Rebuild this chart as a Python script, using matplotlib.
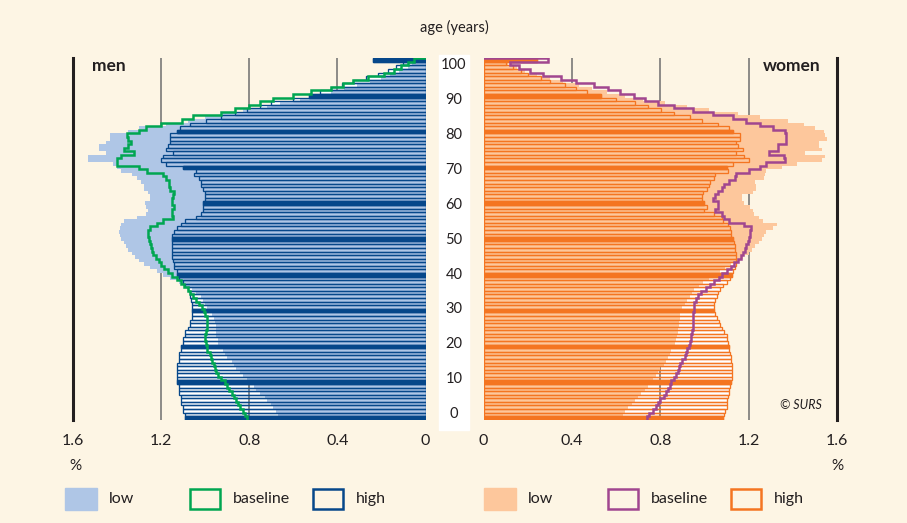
"""
Population projection pyramid - low / baseline / high scenarios (men, women)
"""

import numpy as np
import matplotlib.pyplot as plt
from matplotlib.patches import Rectangle
from matplotlib.transforms import blended_transform_factory

# ages 0..100 (100 = 100+)
ages = np.arange(0, 101)

men_low = [
    0.67, 0.67, 0.68, 0.69, 0.70, 0.72, 0.73, 0.75, 0.77, 0.78,
    0.80, 0.81, 0.83, 0.84, 0.86, 0.87, 0.88, 0.90, 0.91, 0.92,
    0.93, 0.94, 0.94, 0.95, 0.95, 0.95, 0.95, 0.955, 0.96, 0.97,
    0.98, 0.99, 1.00, 1.01, 1.02, 1.04, 1.06, 1.09, 1.12, 1.16,
    1.19, 1.22, 1.25, 1.28, 1.30, 1.32, 1.33, 1.35, 1.36, 1.37,
    1.38, 1.385, 1.39, 1.385, 1.38, 1.37, 1.31, 1.27, 1.26, 1.27,
    1.275, 1.25, 1.25, 1.26, 1.28, 1.28, 1.29, 1.31, 1.33, 1.38,
    1.40, 1.42, 1.53, 1.53, 1.45, 1.48, 1.48, 1.45, 1.43, 1.43,
    1.35, 1.30, 1.18, 1.08, 1.00, 0.92, 0.83, 0.72, 0.66, 0.57,
    0.50, 0.43, 0.37, 0.31, 0.25, 0.20, 0.16, 0.12, 0.08, 0.06,
    0.10,
]
men_base = [
    0.81, 0.82, 0.83, 0.84, 0.85, 0.86, 0.87, 0.88, 0.89, 0.90,
    0.91, 0.93, 0.94, 0.95, 0.955, 0.96, 0.97, 0.975, 0.98, 0.99,
    0.99, 0.995, 1.00, 1.00, 0.995, 0.99, 0.99, 0.99, 0.99, 1.00,
    1.005, 1.015, 1.03, 1.04, 1.055, 1.07, 1.08, 1.095, 1.11, 1.13,
    1.15, 1.17, 1.185, 1.20, 1.21, 1.225, 1.235, 1.24, 1.245, 1.25,
    1.255, 1.26, 1.26, 1.25, 1.22, 1.19, 1.145, 1.15, 1.15, 1.14,
    1.15, 1.15, 1.145, 1.14, 1.16, 1.165, 1.165, 1.18, 1.19, 1.265,
    1.30, 1.40, 1.40, 1.38, 1.325, 1.37, 1.35, 1.335, 1.35, 1.355,
    1.30, 1.27, 1.20, 1.105, 1.055, 0.93, 0.865, 0.80, 0.75, 0.69,
    0.60, 0.52, 0.43, 0.375, 0.33, 0.26, 0.19, 0.145, 0.11, 0.08,
    0.05,
]
men_high = [
    1.09, 1.09, 1.10, 1.10, 1.11, 1.11, 1.11, 1.12, 1.12, 1.12,
    1.13, 1.13, 1.13, 1.13, 1.13, 1.13, 1.12, 1.12, 1.12, 1.11,
    1.11, 1.10, 1.10, 1.09, 1.09, 1.08, 1.07, 1.07, 1.06, 1.06,
    1.06, 1.06, 1.06, 1.065, 1.07, 1.07, 1.08, 1.09, 1.10, 1.12,
    1.13, 1.13, 1.14, 1.14, 1.145, 1.15, 1.15, 1.15, 1.15, 1.15,
    1.15, 1.15, 1.14, 1.13, 1.11, 1.09, 1.04, 1.02, 1.01, 1.01,
    1.01, 1.00, 1.00, 1.00, 1.01, 1.02, 1.02, 1.03, 1.05, 1.04,
    1.10, 1.18, 1.20, 1.19, 1.145, 1.18, 1.17, 1.16, 1.16, 1.16,
    1.13, 1.115, 1.07, 0.995, 0.93, 0.865, 0.81, 0.75, 0.70, 0.60,
    0.53, 0.48, 0.43, 0.38, 0.33, 0.27, 0.215, 0.17, 0.135, 0.10,
    0.24,
]

women_low = [
    0.62, 0.63, 0.64, 0.655, 0.67, 0.685, 0.70, 0.715, 0.73, 0.745,
    0.755, 0.765, 0.78, 0.79, 0.80, 0.815, 0.825, 0.835, 0.845, 0.85,
    0.855, 0.865, 0.87, 0.875, 0.88, 0.88, 0.885, 0.885, 0.89, 0.89,
    0.895, 0.90, 0.91, 0.92, 0.935, 0.945, 0.955, 0.975, 0.995, 1.02,
    1.045, 1.07, 1.095, 1.12, 1.15, 1.175, 1.20, 1.215, 1.23, 1.245,
    1.26, 1.27, 1.28, 1.31, 1.33, 1.265, 1.245, 1.225, 1.22, 1.205,
    1.18, 1.17, 1.17, 1.22, 1.235, 1.235, 1.23, 1.27, 1.275, 1.28,
    1.35, 1.42, 1.53, 1.545, 1.455, 1.53, 1.52, 1.52, 1.555, 1.545,
    1.54, 1.50, 1.45, 1.38, 1.25, 1.15, 1.02, 0.92, 0.82, 0.72,
    0.64, 0.56, 0.49, 0.43, 0.36, 0.30, 0.24, 0.19, 0.15, 0.11,
    0.20,
]
women_base = [
    0.74, 0.75, 0.765, 0.78, 0.79, 0.80, 0.815, 0.825, 0.835, 0.845,
    0.85, 0.86, 0.87, 0.88, 0.885, 0.89, 0.90, 0.91, 0.915, 0.92,
    0.93, 0.935, 0.94, 0.94, 0.945, 0.95, 0.95, 0.95, 0.95, 0.95,
    0.955, 0.955, 0.955, 0.96, 0.97, 0.985, 1.005, 1.025, 1.045, 1.065,
    1.08, 1.10, 1.12, 1.135, 1.15, 1.165, 1.175, 1.185, 1.19, 1.195,
    1.20, 1.205, 1.205, 1.21, 1.18, 1.11, 1.09, 1.08, 1.05, 1.06,
    1.06, 1.04, 1.05, 1.06, 1.08, 1.09, 1.11, 1.14, 1.145, 1.20,
    1.25, 1.28, 1.365, 1.36, 1.29, 1.335, 1.335, 1.37, 1.37, 1.37,
    1.365, 1.31, 1.25, 1.19, 1.13, 1.04, 0.95, 0.86, 0.79, 0.73,
    0.68, 0.62, 0.565, 0.50, 0.42, 0.35, 0.27, 0.21, 0.16, 0.12,
    0.29,
]
women_high = [
    1.085, 1.09, 1.095, 1.10, 1.10, 1.10, 1.105, 1.11, 1.11, 1.115,
    1.12, 1.125, 1.125, 1.125, 1.125, 1.125, 1.12, 1.12, 1.115, 1.11,
    1.11, 1.105, 1.10, 1.10, 1.09, 1.08, 1.07, 1.065, 1.055, 1.05,
    1.045, 1.045, 1.045, 1.05, 1.055, 1.06, 1.07, 1.085, 1.10, 1.115,
    1.125, 1.13, 1.14, 1.145, 1.145, 1.145, 1.145, 1.14, 1.14, 1.135,
    1.13, 1.12, 1.12, 1.115, 1.105, 1.085, 1.08, 1.045, 1.00, 1.01,
    1.00, 0.99, 0.99, 0.995, 1.01, 1.02, 1.025, 1.045, 1.05, 1.105,
    1.10, 1.13, 1.20, 1.18, 1.145, 1.175, 1.15, 1.145, 1.16, 1.16,
    1.13, 1.11, 1.06, 0.99, 0.935, 0.86, 0.805, 0.745, 0.685, 0.60,
    0.53, 0.47, 0.42, 0.37, 0.30, 0.26, 0.20, 0.17, 0.135, 0.10,
    0.24,
]

xticks = [1.6, 1.2, 0.8, 0.4, 0]
xtick_labels = ['1.6', '1.2', '0.8', '0.4', '0']
age_ticks = list(range(0, 101, 10))

BG = '#fdf5e4'
FONT = 'Lato'
TXT = '#231f20'


def step_line(values):
    # vertical step outline of a series, closed to the axis at the top
    v = np.asarray(values)
    ys = np.column_stack([ages - 0.5, ages + 0.5]).ravel()
    xs = np.repeat(v, 2)
    xs = np.append(xs, 0)
    ys = np.append(ys, ages[-1] + 0.5)
    return xs, ys


def draw_side(ax, low, base, high, c_low, c_base, c_high):
    low = np.asarray(low)
    high = np.asarray(high)
    ax.barh(ages, high, height=1, color='white', edgecolor='none', zorder=1)
    for g in [1.2, 0.8, 0.4]:
        ax.axvline(g, color='#6e6e6e', lw=1.1, zorder=2)
    ax.axvline(1.6, color=TXT, lw=2.2, zorder=2, clip_on=False)
    ax.barh(ages, low, height=1, color=c_low, edgecolor='none', zorder=3)
    ax.barh(ages, high, height=1, fill=False, edgecolor=c_high, lw=0.95, zorder=4)
    dec = ages % 10 == 0
    ax.barh(ages[dec], high[dec], height=1, color=c_high, edgecolor=c_high,
            lw=0.95, zorder=4)
    xs, ys = step_line(base)
    ax.plot(xs, ys, color=c_base, lw=1.8, zorder=5, solid_joinstyle='miter')

    ax.set_xlim(0, 1.6)
    ax.set_ylim(-0.5, 100.5)
    ax.set_facecolor('none')
    for s in ax.spines.values():
        s.set_visible(False)
    ax.set_yticks([])
    ax.set_xticks(xticks)
    ax.set_xticklabels(xtick_labels, fontsize=11.5, family=FONT, color=TXT)
    ax.tick_params(axis='x', length=0, pad=10)


def main():
    fig = plt.figure(figsize=(9.07, 5.23), dpi=100)
    fig.patch.set_facecolor(BG)
    W, H = 907, 523

    bottom = (H - 419.8) / H
    height = (419.8 - 58.2) / H
    axL = fig.add_axes([73 / W, bottom, (425.5 - 73) / W, height])
    axR = fig.add_axes([483.5 / W, bottom, (837 - 483.5) / W, height])

    # white strip behind the age labels
    fig.patches.append(Rectangle((439 / W, (H - 430) / H), 30 / W, 375 / H,
                                 transform=fig.transFigure, color='white', zorder=0))

    draw_side(axL, men_low, men_base, men_high, '#afc6e6', '#00a651', '#06478a')
    axL.invert_xaxis()
    draw_side(axR, women_low, women_base, women_high, '#fdc79c', '#a1468f', '#f47521')

    # age labels in the middle column
    tr = blended_transform_factory(fig.transFigure, axL.transData)
    for a in age_ticks:
        fig.text(454 / W, a * 0.977 + 1.0, str(a), transform=tr, ha='center',
                 va='center', fontsize=10.5, family=FONT, color=TXT)
    fig.text(454 / W, 1 - 27 / H, 'age (years)', ha='center', va='center',
             fontsize=10.5, family=FONT, color=TXT)

    fig.text(92 / W, 1 - 66 / H, 'men', ha='left', va='center', fontsize=12.5,
             fontweight='bold', family=FONT, color=TXT)
    fig.text(820 / W, 1 - 66 / H, 'women', ha='right', va='center', fontsize=12.5,
             fontweight='bold', family=FONT, color=TXT)
    fig.text(822 / W, 1 - 405 / H, '© SURS', ha='right', va='center', fontsize=9,
             style='italic', family=FONT, color=TXT)

    fig.text(75 / W, 1 - 466 / H, '%', ha='center', va='center', fontsize=11,
             family=FONT, color=TXT)
    fig.text(837 / W, 1 - 466 / H, '%', ha='center', va='center', fontsize=11,
             family=FONT, color=TXT)

    # legend
    items = [
        (65, 'fill', '#afc6e6', 'low'),
        (189, 'box', '#00a651', 'baseline'),
        (312, 'box', '#06478a', 'high'),
        (484, 'fill', '#fdc79c', 'low'),
        (607, 'box', '#a1468f', 'baseline'),
        (730, 'box', '#f47521', 'high'),
    ]
    for x0, kind, col, lab in items:
        if kind == 'fill':
            r = Rectangle((x0 / W, 1 - 510 / H), 32 / W, 22 / H,
                          transform=fig.transFigure, color=col)
        else:
            r = Rectangle(((x0 + 1) / W, 1 - 509 / H), 30 / W, 20 / H,
                          transform=fig.transFigure, facecolor='none',
                          edgecolor=col, lw=1.8)
        fig.patches.append(r)
        fig.text((x0 + 44) / W, 1 - 499 / H, lab, ha='left', va='center',
                 fontsize=11.5, family=FONT, color=TXT)

    fig.savefig('out.png', dpi=100, facecolor=BG)


if __name__ == '__main__':
    main()
